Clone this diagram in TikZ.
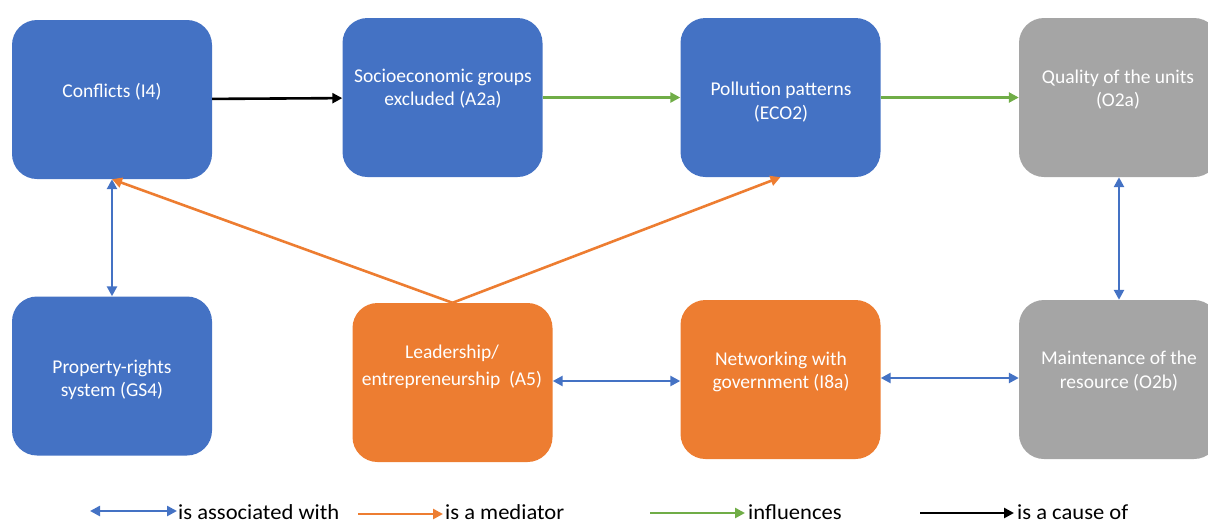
\documentclass[tikz,border=0pt]{standalone}
\usepackage{fontspec}
\setmainfont{Carlito}
\newfontfamily\legfont[FakeStretch=1.05]{Carlito}
\usetikzlibrary{arrows.meta}
\definecolor{cblue}{HTML}{4472C4}
\definecolor{corange}{HTML}{ED7D31}
\definecolor{cgray}{HTML}{A5A5A5}
\definecolor{cgreen}{HTML}{70AD47}
\tikzset{
  box/.style={rounded corners=25pt, minimum width=200pt, minimum height=159pt, inner sep=0pt, draw=none},
  bluebox/.style={box, fill=cblue},
  orangebox/.style={box, fill=corange},
  graybox/.style={box, fill=cgray},
  txt/.style={text=white, align=center, font=\fontsize{19.5pt}{23.5pt}\selectfont, inner sep=0pt},
  tip/.style={-{Triangle[length=10pt,width=10pt]}},
  dtip/.style={{Triangle[length=10pt,width=10pt]}-{Triangle[length=10pt,width=10pt]}},
  assoc/.style={dtip, draw=cblue, fill=cblue, line width=2.6pt},
  medi/.style={tip, draw=corange, fill=corange, line width=2.6pt},
  infl/.style={tip, draw=cgreen, fill=cgreen, line width=2.6pt},
  cause/.style={tip, draw=black, fill=black, line width=2.6pt},
  legtxt/.style={anchor=west, inner sep=0pt, font=\legfont\fontsize{21.5pt}{24pt}\selectfont},
}
\begin{document}
\begin{tikzpicture}[x=1pt, y=-1pt]
\useasboundingbox (0,0) rectangle (1208,523);
% boxes
\node[bluebox] (c1) at (112,99.5) {};
\node[bluebox] (c2) at (442.5,97.5) {};
\node[bluebox] (c3) at (780.5,97.5) {};
\node[graybox] (c4) at (1119,97.5) {};
\node[bluebox] (c5) at (112,376) {};
\node[orangebox] (c6) at (452.5,382.5) {};
\node[orangebox] (c7) at (780.5,379.5) {};
\node[graybox] (c8) at (1119,379.5) {};
% texts
\node[txt] (t1) at (112,92) {Conflicts (I4)};
\node[txt] (t2) at (443,88.5) {Socioeconomic groups\\excluded (A2a)};
\node[txt] (t3) at (781,102) {Pollution patterns\\(ECO2)};
\node[txt] (t4) at (1118,89.5) {Quality of the units\\(O2a)};
\node[txt] (t5) at (112,380) {Property-rights\\system (GS4)};
\node[txt, font=\fontsize{19.5pt}{27pt}\selectfont] (t6) at (452,367) {Leadership/\\entrepreneurship\ \ (A5)};
\node[txt] (t7) at (781,372) {Networking with\\government (I8a)};
\node[txt] (t8) at (1119,371) {Maintenance of the\\resource (O2b)};
% connectors
\draw[cause] (c1) -- (c2);
\draw[infl] (c2) -- (c3);
\draw[infl] (c3) -- (c4);
\draw[assoc] (c1) -- (c5);
\draw[assoc] (c4) -- (c8);
\draw[assoc] (c6.east |- 0,381) -- (c7.west |- 0,381);
\draw[assoc] (c7.east |- 0,378) -- (c8.west |- 0,378);
\draw[medi] (c6.north) -- (c1.south);
\draw[medi] (c6.north) -- (c3.south);
% legend
\coordinate (la1) at (90,511);
\coordinate (la2) at (177,511);
\coordinate (lb1) at (358,514);
\coordinate (lb2) at (443,514);
\coordinate (lc1) at (650,513);
\coordinate (lc2) at (745,513);
\coordinate (ld1) at (920,513);
\coordinate (ld2) at (1014,513);
\draw[assoc] (la1) -- (la2);
\draw[medi] (lb1) -- (lb2);
\draw[infl] (lc1) -- (lc2);
\draw[cause] (ld1) -- (ld2);
\node[legtxt] (lt1) at (178,512) {is associated with};
\node[legtxt] (lt2) at (445,512) {is a mediator};
\node[legtxt] (lt3) at (748,512) {influences};
\node[legtxt] (lt4) at (1017,512) {is a cause of};
\end{tikzpicture}
\end{document}
